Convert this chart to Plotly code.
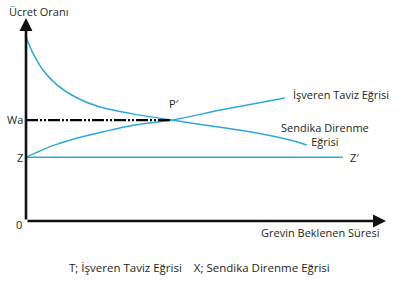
import plotly.graph_objects as go

# Data (abstract units: x = expected strike duration, y = wage rate)
sendika_x = [0, 0.19, 0.47, 0.86, 1.42, 2.06, 2.97, 4.05, 5.1, 6.22, 7.33, 7.80]
sendika_y = [9.15, 8.36, 7.51, 6.77, 6.12, 5.67, 5.33, 5.02, 4.74, 4.44, 4.03, 3.78]
isveren_x = [0, 0.67, 1.31, 2.06, 2.97, 4.05, 5.4, 7.19]
isveren_y = [3.17, 3.70, 4.07, 4.40, 4.76, 5.02, 5.52, 6.12]
z_level = 3.17
z_end = 8.8
wa_level = 5.02
p_x = 4.05

BLUE = "#2ea8dc"
FONT = "Open Sans"
TXT = "#231f20"

fig = go.Figure()
fig.add_trace(go.Scatter(x=sendika_x, y=sendika_y, mode="lines",
                         line=dict(color=BLUE, width=1.5, shape="spline", smoothing=0.7),
                         hoverinfo="skip"))
fig.add_trace(go.Scatter(x=isveren_x, y=isveren_y, mode="lines",
                         line=dict(color=BLUE, width=1.5, shape="spline", smoothing=0.7),
                         hoverinfo="skip"))
fig.add_trace(go.Scatter(x=[0, z_end], y=[z_level, z_level], mode="lines",
                         line=dict(color=BLUE, width=1.5), hoverinfo="skip"))
fig.add_trace(go.Scatter(x=[0, p_x], y=[wa_level, wa_level], mode="lines",
                         line=dict(color="black", width=2.2, dash="12px,2px,2px,2px,2px,2px"),
                         hoverinfo="skip"))

ann = []
# axes arrows
ann.append(dict(x=0, y=10.1, ax=0, ay=0, xref="x", yref="y", axref="x", ayref="y",
                showarrow=True, arrowhead=2, arrowsize=1, arrowwidth=2.6, arrowcolor="#111", text=""))
ann.append(dict(x=10, y=0, ax=0, ay=0, xref="x", yref="y", axref="x", ayref="y",
                showarrow=True, arrowhead=2, arrowsize=1, arrowwidth=2.6, arrowcolor="#111", text=""))

W, H, L, B0 = 360.0, 201.0, 26.0, 221.0


def px(xp):
    return (xp - L) / W


def py(yp):
    return (B0 - yp) / H


def label(text, x, y, xanchor="left", yanchor="middle", size=11, xref="x", yref="y", align="left"):
    ann.append(dict(text=text, x=x, y=y, xref=xref, yref=yref, xanchor=xanchor, yanchor=yanchor,
                    showarrow=False, align=align, font=dict(family=FONT, size=size, color=TXT)))


label("Ücret Oranı", px(7), py(11), xref="paper", yref="paper")
label("Wa", px(25), py(119), xanchor="right", xref="paper", yref="paper")
label("Z", px(25), py(157.5), xanchor="right", xref="paper", yref="paper")
label("0", px(24), py(224), xanchor="right", xref="paper", yref="paper")
label("P′", p_x + 0.05, wa_level + 0.35, xanchor="center", yanchor="bottom")
label("İşveren Taviz Eğrisi", 7.35, 6.3, xanchor="left")
label("Sendika Direnme<br>Eğrisi", 8.3, 4.3, xanchor="center", align="center")
label("Z′", z_end + 0.15, z_level, xanchor="left")
label("Grevin Beklenen Süresi", px(382), py(232), xanchor="right", xref="paper", yref="paper")
label("T; İşveren Taviz Eğrisi    X; Sendika Direnme Eğrisi", px(199), py(267), xanchor="center",
      xref="paper", yref="paper", size=11.5)

fig.update_layout(
    width=401, height=281,
    margin=dict(l=26, r=15, t=20, b=60),
    paper_bgcolor="white", plot_bgcolor="white",
    showlegend=False,
    xaxis=dict(range=[0, 10], visible=False, fixedrange=True),
    yaxis=dict(range=[0, 10], visible=False, fixedrange=True),
    annotations=ann,
)
fig.write_html("out.html")
